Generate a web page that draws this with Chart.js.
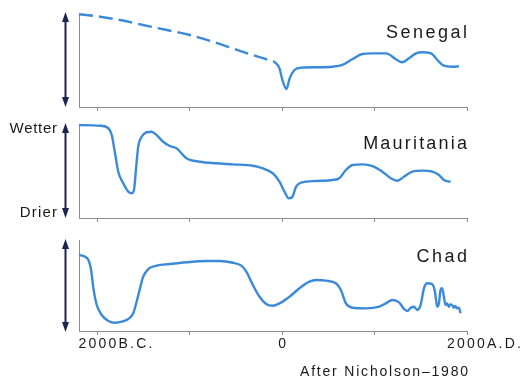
<!DOCTYPE html>
<html><head><meta charset="utf-8">
<script src="https://cdn.jsdelivr.net/npm/chart.js@4.4.0/dist/chart.umd.min.js"></script>
<style>
html,body{margin:0;padding:0;background:#fff;}
#wrap{position:relative;width:526px;height:385px;overflow:hidden;background:#fff;}
#wrap canvas{position:absolute;left:0;top:0;}
</style></head><body>
<div id="wrap">
<canvas id="c1" width="526" height="385"></canvas>
<canvas id="c2" width="526" height="385"></canvas>
<canvas id="c3" width="526" height="385"></canvas>
</div>
<script>
// ---------- data ----------
const regions = ['Senegal', 'Mauritania', 'Chad'];
const tickYears = [-2000, -1000, 0, 1000, 2000];
const tickLabels = ['2000B.C.', '', '0', '', '2000A.D.'];
const wetLabel = 'Wetter';
const dryLabel = 'Drier';
const sourceNote = 'After Nicholson\u20131980';

const senegalDashedYears = [-2200, -1971, -1756, -1508, -1249, -1000, -752, -537, -321, -84];
const senegalDashedValues = [99.7, 97.1, 93.5, 88.2, 82.8, 77.4, 70.2, 63.1, 55.9, 48.7];

const senegalYears = [-84, -30, 2, 45, 80, 132, 207, 401, 542, 650, 757, 865, 973, 1124, 1232, 1297, 1372, 1448, 1513, 1610, 1696, 1750, 1836, 1912];
const senegalValues = [48.7, 41.6, 29, 19.4, 30.8, 39.8, 42.3, 42.7, 43.3, 45.2, 51.3, 57, 57.7, 57.7, 51.3, 48.1, 52.4, 57.7, 58.8, 57.7, 48.7, 44.4, 43.3, 43.8];

const mauritaniaYears = [-2200, -1972, -1882, -1846, -1810, -1775, -1721, -1667, -1630, -1605, -1584, -1559, -1522, -1468, -1414, -1360, -1289, -1217, -1145, -1091, -1037, -893, -713, -534, -318, -210, -102, -30, 24, 70, 107, 150, 204, 366, 545, 617, 689, 761, 868, 976, 1084, 1175, 1246, 1318, 1408, 1516, 1624, 1696, 1750, 1822];
const mauritaniaValues = [100, 99.2, 96.5, 89.2, 69.6, 49.8, 37.3, 28.3, 26.6, 30.1, 51.6, 76.7, 87.4, 92.2, 92.8, 89.2, 82, 77.4, 74.9, 69.6, 64.2, 60.5, 58.8, 57.7, 56.2, 53.4, 48.1, 39, 28.3, 21.2, 22.3, 33.7, 38, 39.8, 40.9, 42.7, 51.6, 57, 57.7, 55.9, 49.8, 42.7, 40.1, 44.4, 49.8, 50.9, 49.8, 46.2, 40.9, 39];

const chadYears = [-2200, -2134, -2098, -2072, -2044, -2008, -1954, -1882, -1810, -1738, -1667, -1613, -1576, -1540, -1505, -1451, -1360, -1217, -1037, -821, -677, -534, -443, -389, -318, -246, -174, -102, -30, 78, 186, 293, 366, 474, 581, 635, 689, 761, 905, 1049, 1121, 1192, 1264, 1318, 1354, 1391, 1426, 1462, 1498, 1534, 1570, 1624, 1653, 1677, 1696, 1714, 1731, 1750, 1768, 1785, 1804, 1822, 1839, 1857, 1875, 1890, 1912, 1930];
const chadValues = [83.5, 81.6, 78, 68.9, 46.9, 28.6, 17.6, 11, 9.1, 10.2, 13.2, 19.5, 32.2, 46.9, 59.7, 68.1, 71.8, 73.6, 75.5, 76.9, 76.9, 75, 71.8, 65.2, 50.5, 37.7, 29.7, 27.8, 30.4, 37.7, 46.9, 54.2, 56, 55.3, 52.4, 45.1, 30.4, 25.6, 24.9, 26.7, 30.4, 34.1, 31.5, 24.2, 22, 25.6, 26.7, 23.1, 28.6, 46.9, 52.4, 51.3, 43.2, 26.7, 30.4, 45.1, 46.9, 37.7, 28.6, 30.4, 26.7, 29.3, 28.6, 25.6, 27.5, 24.9, 25.6, 19.5];

// ---------- helpers ----------
const LINE = '#3a8ad8';
const AXIS = '#8c8c8c';
const INK = '#1a1a1a';
const ARROW = '#1d2450';
const FONT = '"Liberation Sans", Arial, Helvetica, sans-serif';

function pts(xs, ys) { return xs.map((x, i) => ({ x: x, y: ys[i] })); }

function txt(ctx, s, x, y, size, align, spacing, color) {
  ctx.save();
  ctx.font = size + 'px ' + FONT;
  ctx.letterSpacing = spacing + 'px';
  ctx.fillStyle = color || INK;
  ctx.textBaseline = 'alphabetic';
  ctx.textAlign = 'left';
  const w = ctx.measureText(s).width - spacing;
  let left = x;
  if (align === 'right') left = x - w;
  else if (align === 'center') left = x - w / 2;
  ctx.fillText(s, left, y);
  ctx.restore();
}

function arrow(ctx, x, y1, y2) {
  ctx.save();
  ctx.strokeStyle = ARROW; ctx.fillStyle = ARROW; ctx.lineWidth = 2;
  ctx.beginPath(); ctx.moveTo(x, y1 + 6); ctx.lineTo(x, y2 - 6); ctx.stroke();
  ctx.beginPath(); ctx.moveTo(x, y1); ctx.lineTo(x - 3.5, y1 + 10); ctx.lineTo(x + 3.5, y1 + 10); ctx.closePath(); ctx.fill();
  ctx.beginPath(); ctx.moveTo(x, y2); ctx.lineTo(x - 3.5, y2 - 10); ctx.lineTo(x + 3.5, y2 - 10); ctx.closePath(); ctx.fill();
  ctx.restore();
}

function lineDs(data, dashed) {
  return {
    data: data, borderColor: LINE, borderWidth: 2.4, borderDash: dashed ? [14, 6] : [],
    pointRadius: 0, fill: false, cubicInterpolationMode: 'monotone', clip: false
  };
}

function panel(id, top, bottom, datasets, deco) {
  return new Chart(document.getElementById(id), {
    type: 'line',
    data: { datasets: datasets },
    options: {
      responsive: false, animation: false, devicePixelRatio: 1,
      layout: { padding: { left: 79, right: 526 - 467, top: top, bottom: 385 - bottom } },
      plugins: { legend: { display: false }, tooltip: { enabled: false }, title: { display: false } },
      scales: {
        x: {
          type: 'linear', min: -2200, max: 2000,
          afterBuildTicks: s => { s.ticks = tickYears.map(v => ({ value: v })); },
          afterFit: s => { s.height = 0; },
          ticks: { display: false },
          grid: { display: true, drawOnChartArea: false, drawTicks: true, tickLength: 4, color: AXIS, lineWidth: 1 },
          border: { display: true, color: AXIS, width: 1 }
        },
        y: {
          min: 0, max: 100,
          afterFit: s => { s.width = 0; },
          ticks: { display: false },
          grid: { display: false },
          border: { display: true, color: AXIS, width: 1 }
        }
      }
    },
    plugins: [{ id: 'deco' + id, afterDraw(chart) { deco(chart); } }]
  });
}

// ---------- panels ----------
panel('c1', 14, 107, [
  lineDs(pts(senegalDashedYears, senegalDashedValues), true),
  lineDs(pts(senegalYears, senegalValues), false)
], chart => {
  const ctx = chart.ctx, a = chart.chartArea;
  arrow(ctx, 65.5, a.top - 2, a.bottom);
  txt(ctx, regions[0], 467, 38, 18, 'right', 2.5);
});

panel('c2', 125, 218, [
  lineDs(pts(mauritaniaYears, mauritaniaValues), false)
], chart => {
  const ctx = chart.ctx, a = chart.chartArea;
  arrow(ctx, 65.5, a.top - 2, a.bottom);
  txt(ctx, regions[1], 467, 149, 18, 'right', 2.2);
  txt(ctx, wetLabel, 57, 133, 15, 'right', 0.7);
  txt(ctx, dryLabel, 57, 217, 15, 'right', 1.2);
});

panel('c3', 240, 331, [
  lineDs(pts(chadYears, chadValues), false)
], chart => {
  const ctx = chart.ctx, a = chart.chartArea, xs = chart.scales.x;
  arrow(ctx, 65.5, a.top - 1, a.bottom + 1);
  txt(ctx, regions[2], 467, 262, 18, 'right', 2.5);
  const offs = [18, 0, 0, 0, 17];
  tickYears.forEach((v, i) => {
    if (tickLabels[i]) txt(ctx, tickLabels[i], xs.getPixelForValue(v) + offs[i], 348, 14, 'center', 2.2);
  });
  txt(ctx, sourceNote, 300, 376, 14, 'left', 1.8);
});
</script>
</body></html>
